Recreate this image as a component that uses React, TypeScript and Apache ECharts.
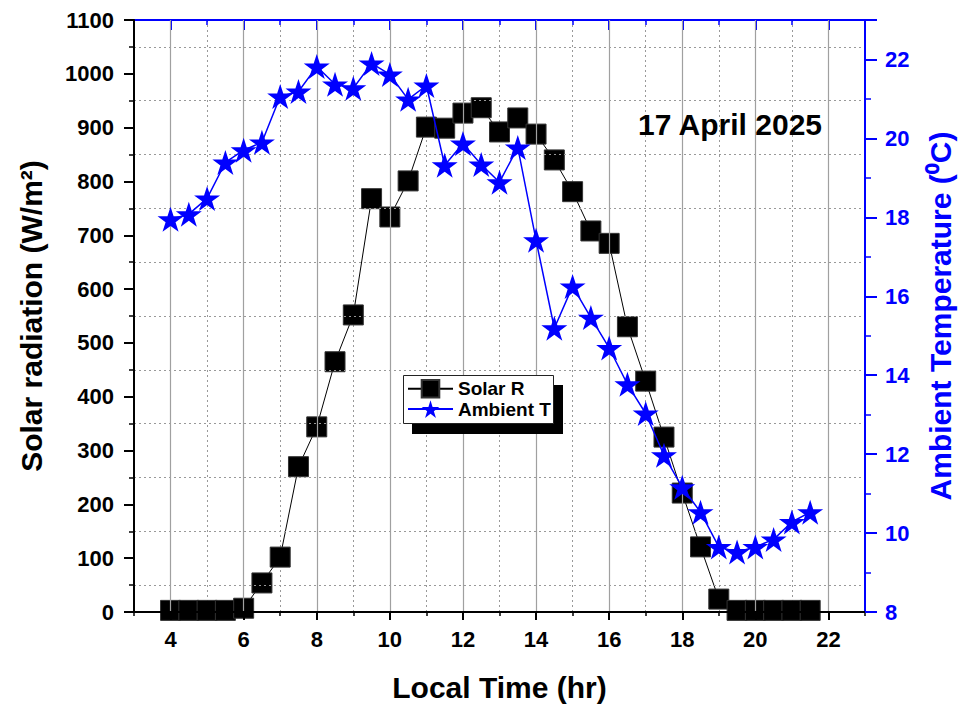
import React, { useEffect, useRef } from "react";
import * as echarts from "echarts";

const hours = [4, 4.5, 5, 5.5, 6, 6.5, 7, 7.5, 8, 8.5, 9, 9.5, 10, 10.5, 11, 11.5, 12, 12.5, 13, 13.5, 14, 14.5, 15, 15.5, 16, 16.5, 17, 17.5, 18, 18.5, 19, 19.5, 20, 20.5, 21, 21.5];
const solarR = [3, 3, 3, 3, 7, 54, 102, 270, 344, 465, 552, 768, 734, 801, 901, 899, 927, 937, 892, 918, 888, 840, 781, 708, 685, 530, 429, 325, 221, 121, 24, 3, 3, 3, 3, 3];
const ambientT = [17.95, 18.08, 18.48, 19.39, 19.7, 19.9, 21.06, 21.19, 21.82, 21.37, 21.27, 21.9, 21.62, 20.99, 21.34, 19.32, 19.87, 19.34, 18.89, 19.77, 17.42, 15.19, 16.25, 15.46, 14.69, 13.77, 13.03, 11.97, 11.16, 10.53, 9.65, 9.52, 9.65, 9.84, 10.28, 10.53];
const xMajorTicks = [4, 6, 8, 10, 12, 14, 16, 18, 20, 22];
const xMinorTicks = [3, 5, 7, 9, 11, 13, 15, 17, 19, 21, 23];

const FONT = 'Arial, "Liberation Sans", Helvetica, sans-serif';
const BLUE = "#0000FF";
const STAR = "path://M50 0 L61.23 34.55 L97.55 34.55 L68.17 55.9 L79.39 90.45 L50 69.1 L20.61 90.45 L31.83 55.9 L2.45 34.55 L38.77 34.55 Z";

export default function App() {
  const ref = useRef<HTMLDivElement>(null);
  useEffect(() => {
    document.body.style.margin = "0";
    const chart = echarts.init(ref.current!, null, { renderer: "svg" });
    const baseX = { type: "value", min: 3, max: 23, gridIndex: 0 };
    chart.setOption({
      animation: false,
      backgroundColor: "#fff",
      textStyle: { fontFamily: FONT },
      grid: { left: 134, right: 95, top: 20, bottom: 98, containLabel: false },
      xAxis: [
        {
          ...baseX,
          position: "bottom",
          name: "Local Time (hr)",
          nameLocation: "middle",
          nameGap: 60,
          nameTextStyle: { fontSize: 30, fontWeight: "bold", color: "#000", fontFamily: FONT },
          axisLine: { show: true, lineStyle: { color: "#000", width: 2 } },
          axisTick: { show: true, customValues: xMajorTicks, length: 8, lineStyle: { color: "#000", width: 2 } },
          axisLabel: { show: true, customValues: xMajorTicks, fontSize: 22, fontWeight: "bold", color: "#000", margin: 16, fontFamily: FONT },
          splitLine: { show: true, lineStyle: { color: "#a0a0a0", width: 1.2, type: "solid" } },
          z: 3,
        },
        {
          ...baseX,
          position: "bottom",
          axisLine: { show: false },
          axisTick: { show: true, customValues: xMinorTicks, length: 4, lineStyle: { color: "#000", width: 1.5 } },
          axisLabel: { show: false },
          splitLine: { show: true, lineStyle: { color: "#999", width: 1, type: [2, 3] } },
        },
        {
          ...baseX,
          position: "top",
          axisLine: { show: true, lineStyle: { color: BLUE, width: 2 } },
          axisTick: { show: true, inside: true, customValues: xMajorTicks, length: 10, lineStyle: { color: BLUE, width: 2 } },
          axisLabel: { show: false },
          splitLine: { show: false },
        },
        {
          ...baseX,
          position: "top",
          axisLine: { show: false },
          axisTick: { show: true, inside: true, customValues: xMinorTicks, length: 5, lineStyle: { color: BLUE, width: 1.5 } },
          axisLabel: { show: false },
          splitLine: { show: false },
        },
      ],
      yAxis: [
        {
          type: "value",
          position: "left",
          min: 0,
          max: 1100,
          interval: 100,
          name: "Solar radiation (W/m²)",
          nameLocation: "middle",
          nameGap: 88,
          nameTextStyle: { fontSize: 30, fontWeight: "bold", color: "#000", fontFamily: FONT },
          axisLine: { show: true, lineStyle: { color: "#000", width: 2 } },
          axisTick: { show: true, length: 10, lineStyle: { color: "#000", width: 2 } },
          minorTick: { show: true, splitNumber: 2, length: 5, lineStyle: { color: "#000", width: 1.5 } },
          axisLabel: {
            fontSize: 22,
            fontWeight: "bold",
            color: "#000",
            margin: 20,
            fontFamily: FONT,
            formatter: (v: number) => String(v),
          },
          splitLine: { show: false },
          minorSplitLine: { show: true, lineStyle: { color: "#999", width: 1, type: [2, 3] } },
          z: 3,
        },
        {
          type: "value",
          position: "right",
          min: 8,
          max: 23,
          interval: 2,
          name: "Ambient Temperature (⁰C)",
          nameLocation: "middle",
          nameGap: 60,
          nameTextStyle: { fontSize: 30, fontWeight: "bold", color: BLUE, fontFamily: FONT },
          axisLine: { show: true, lineStyle: { color: BLUE, width: 2 } },
          axisTick: { show: true, length: 12, lineStyle: { color: BLUE, width: 2 } },
          minorTick: { show: true, splitNumber: 2, length: 6, lineStyle: { color: BLUE, width: 1.5 } },
          axisLabel: {
            fontSize: 22,
            fontWeight: "bold",
            color: BLUE,
            margin: 20,
            fontFamily: FONT,
            formatter: (v: number) => (v > 22 ? "" : String(v)),
          },
          splitLine: { show: false },
          z: 3,
        },
      ],
      legend: {
        orient: "vertical",
        left: 403,
        top: 379,
        padding: [0, 4, 0, 4],
        itemWidth: 45,
        itemHeight: 22,
        itemGap: 1,
        backgroundColor: "transparent",
        textStyle: { fontSize: 19, fontWeight: "bold", color: "#000", fontFamily: FONT },
        data: ["Solar R", "Ambient T"],
        z: 7,
      },
      graphic: [
        { type: "rect", left: 412, top: 385, shape: { width: 151, height: 49 }, style: { fill: "#000" }, z: 5 },
        {
          type: "rect",
          left: 403,
          top: 375,
          shape: { width: 150, height: 48 },
          style: { fill: "#fff", stroke: "#222", lineWidth: 1 },
          z: 6,
        },
        {
          type: "text",
          left: 638,
          top: 109,
          style: { text: "17 April 2025", fill: "#000", font: `bold 30px ${FONT}` },
          z: 6,
        },
      ],
      series: [
        {
          name: "Solar R",
          type: "line",
          xAxisIndex: 0,
          yAxisIndex: 0,
          data: hours.map((h, i) => [h, solarR[i]]),
          symbol: "rect",
          symbolSize: 20,
          itemStyle: { color: "#000", borderColor: "#333", borderWidth: 1 },
          lineStyle: { color: "#000", width: 1 },
          z: 2,
        },
        {
          name: "Ambient T",
          type: "line",
          xAxisIndex: 0,
          yAxisIndex: 1,
          data: hours.map((h, i) => [h, ambientT[i]]),
          symbol: STAR,
          symbolSize: [26, 25],
          itemStyle: { color: BLUE },
          lineStyle: { color: BLUE, width: 1.5 },
          z: 3,
        },
      ],
    });
    return () => chart.dispose();
  }, []);
  return <div ref={ref} style={{ position: "absolute", left: 0, top: 0, width: 963, height: 710 }} />;
}
